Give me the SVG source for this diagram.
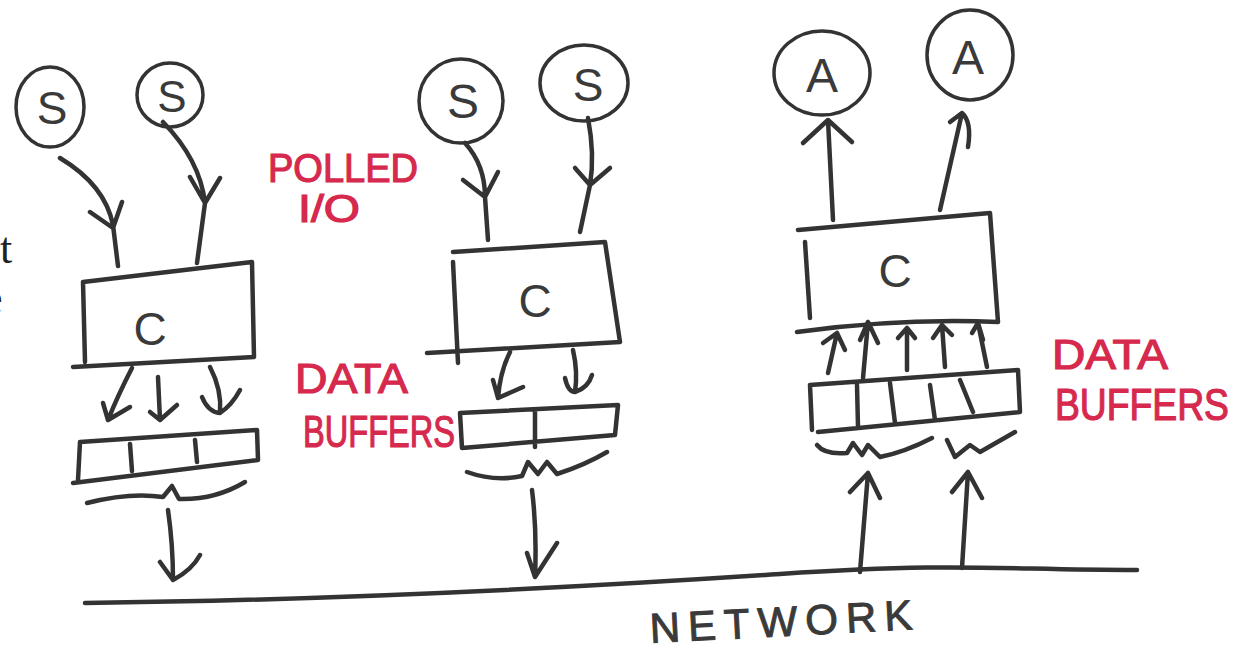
<svg xmlns="http://www.w3.org/2000/svg" width="1251" height="652" viewBox="0 0 1251 652">
  <style>
    .ink { fill: none; stroke: #333; stroke-width: 4.5; stroke-linecap: round; stroke-linejoin: round; }
    .thin { stroke-width: 3.5; }
    .glyph { font-family: "Liberation Sans", "DejaVu Sans", sans-serif; fill: #3a3a3a; text-anchor: middle; }
    .red { font-family: "Liberation Sans", "DejaVu Sans", sans-serif; fill: #d6294d; stroke: #d6294d; stroke-width: 1.2; }
    .page { font-family: "Liberation Serif", "DejaVu Serif", serif; fill: #222; }
  </style>
  <rect width="1251" height="652" fill="#fff"/>

  <!-- fragments of page text at the left margin -->
  <text class="page" x="0" y="263" font-size="44">t</text>
  <text class="page" x="-17" y="313" font-size="44">e</text>

  <!-- left station: two sensors, controller, buffer -->
  <g id="s1">
    <ellipse class="ink thin" cx="50" cy="107" rx="34" ry="40"/>
    <text class="glyph" x="52" y="124" font-size="46">S</text>
  </g>
  <g id="s2">
    <ellipse class="ink thin" cx="170" cy="95" rx="33" ry="32"/>
    <text class="glyph" x="172" y="112" font-size="44">S</text>
  </g>
  <g id="c1">
    <path class="ink" d="M83,282 L252,262 L254,357 L73,367 M83,282 L85,362"/>
    <text class="glyph" x="150" y="345" font-size="46">C</text>
  </g>
  <g id="buf1">
    <path class="ink" d="M80,442 L257,430 L258,460 L73,483 M80,442 L78,480 M130,444 L132,471 M195,440 L197,462"/>
  </g>

  <!-- middle station -->
  <g id="s3">
    <ellipse class="ink thin" cx="461" cy="101" rx="42" ry="42"/>
    <text class="glyph" x="463" y="118" font-size="48">S</text>
  </g>
  <g id="s4">
    <ellipse class="ink thin" cx="584" cy="83" rx="44" ry="38"/>
    <text class="glyph" x="588" y="101" font-size="46">S</text>
  </g>
  <g id="c2">
    <path class="ink" d="M453,252 L605,242 L620,342 L427,353 M453,262 L458,363"/>
    <text class="glyph" x="535" y="317" font-size="46">C</text>
  </g>
  <g id="buf2">
    <path class="ink" d="M460,413 L618,405 L615,435 L462,448 Z M535,410 L535,447"/>
  </g>

  <!-- right station: two actuators, controller, buffer -->
  <g id="a1">
    <ellipse class="ink thin" cx="822" cy="73" rx="48" ry="42"/>
    <text class="glyph" x="822" y="92" font-size="48">A</text>
  </g>
  <g id="a2">
    <ellipse class="ink thin" cx="970" cy="55" rx="43" ry="45"/>
    <text class="glyph" x="968" y="74" font-size="48">A</text>
  </g>
  <g id="c3">
    <path class="ink" d="M798,230 L990,213 L998,322 Q900,318 797,332 M805,242 L810,318"/>
    <text class="glyph" x="895" y="287" font-size="46">C</text>
  </g>
  <g id="buf3">
    <path class="ink" d="M810,385 L1018,370 L1020,412 L818,432 M810,385 L812,430 M857,385 L858,427 M890,383 L895,423 M930,385 L935,420 M960,380 L973,412"/>
  </g>

  <!-- shared bus -->
  <g id="network">
    <path class="ink" d="M85,603 C350,600 600,586 780,574 S1000,570 1137,570"/>
    <text x="785" y="636" font-size="42" font-family="Liberation Sans, DejaVu Sans, sans-serif" fill="#3a3a3a" stroke="#3a3a3a" stroke-width="1" text-anchor="middle" letter-spacing="8" transform="rotate(-3 785 622)">NETWORK</text>
  </g>

  <!-- labels -->
  <g id="labels">
    <text class="red" x="268" y="182" font-size="40" textLength="150" lengthAdjust="spacingAndGlyphs">POLLED</text>
    <text class="red" x="298" y="222" font-size="38" textLength="62" lengthAdjust="spacingAndGlyphs">I/O</text>
    <text class="red" x="295" y="393" font-size="42" textLength="113" lengthAdjust="spacingAndGlyphs">DATA</text>
    <text class="red" x="303" y="447" font-size="44" textLength="152" lengthAdjust="spacingAndGlyphs">BUFFERS</text>
    <text class="red" x="1052" y="369" font-size="42" textLength="116" lengthAdjust="spacingAndGlyphs">DATA</text>
    <text class="red" x="1055" y="420" font-size="44" textLength="174" lengthAdjust="spacingAndGlyphs">BUFFERS</text>
  </g>

  <!-- connectors: hand-drawn arrows and braces -->
  <g id="connectors" class="ink">
    <!-- left station -->
    <path d="M60,158 Q105,185 113,225 L118,266 M90,212 L113,228 L122,202"/>
    <path d="M163,122 Q200,160 205,203 L197,263 M190,177 L205,203 L220,178"/>
    <path d="M132,368 Q118,395 108,420 M103,403 L108,420 L130,407"/>
    <path d="M158,377 L160,420 M150,412 L160,420 L177,405"/>
    <path d="M210,367 Q222,390 220,413 M202,397 Q208,412 220,413 Q232,405 240,390"/>
    <path d="M87,503 Q130,492 163,497 L172,486 L179,499 Q215,500 245,482"/>
    <path d="M168,510 Q173,545 173,580 M160,562 L173,580 Q192,570 200,555"/>
    <!-- middle station -->
    <path d="M465,143 Q485,165 485,197 L488,240 M463,180 L485,197 L498,172"/>
    <path d="M588,118 Q595,155 590,185 L580,232 M575,168 L590,185 L610,168"/>
    <path d="M510,352 Q500,372 498,398 M493,380 L498,398 L523,387"/>
    <path d="M573,350 Q578,372 575,392 M565,378 Q568,392 575,392 Q588,388 592,375"/>
    <path d="M467,472 Q495,482 522,476 L528,462 L538,474 L547,462 L557,474 Q585,465 607,452"/>
    <path d="M532,490 Q537,530 535,577 M527,553 L535,577 L557,543"/>
    <!-- right station -->
    <path d="M833,220 L828,120 M803,143 L828,120 L852,142"/>
    <path d="M940,210 L962,113 M950,122 L962,113 Q972,122 968,147"/>
    <path d="M828,373 L837,333 M823,343 L837,333 L845,350"/>
    <path d="M863,378 L868,322 M860,340 L868,322 L878,343"/>
    <path d="M907,370 L907,328 M898,338 L907,328 L915,338"/>
    <path d="M945,367 L942,325 M933,338 L942,325 L952,335"/>
    <path d="M987,367 L978,323 M972,333 L978,323 L983,340"/>
    <path d="M817,445 Q825,455 847,453 L853,443 L862,455 L868,445 L880,457 Q905,452 932,438"/>
    <path d="M947,440 L955,457 L970,445 L980,452 L1015,432"/>
    <path d="M860,572 L868,473 M850,492 L868,473 L880,498"/>
    <path d="M962,568 L968,472 M952,492 L968,472 L982,498"/>
  </g>
</svg>
